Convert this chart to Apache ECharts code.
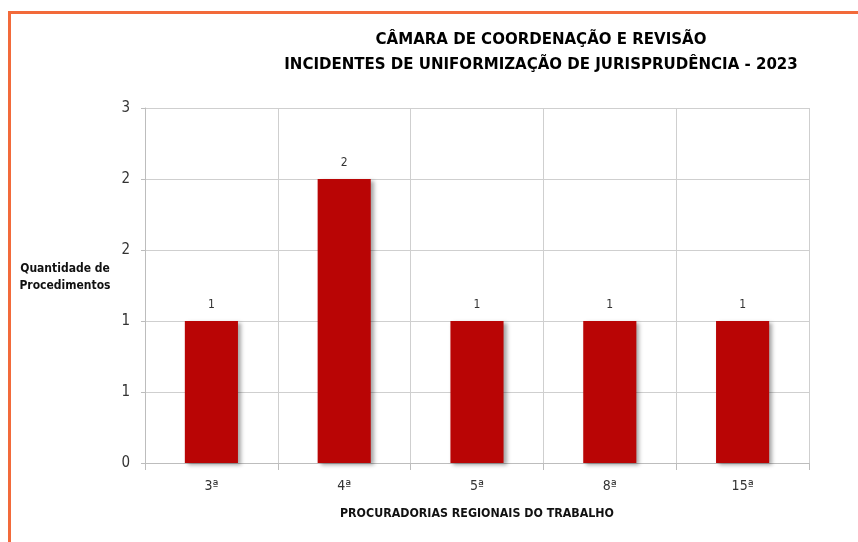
<!DOCTYPE html>
<html>
<head>
<meta charset="utf-8">
<script src="https://cdn.jsdelivr.net/npm/echarts@6/dist/echarts.min.js"></script>
<style>
html,body{margin:0;padding:0;background:#fff;}
#frame{position:absolute;left:8px;top:11px;width:900px;height:600px;border-top:3px solid #f26a3a;border-left:3px solid #f26a3a;}
#chart{position:absolute;left:0;top:0;width:858px;height:542px;}
</style>
</head>
<body>
<div id="frame"></div>
<div id="chart"></div>
<script>
// dados do gráfico
var categorias = ['3ª', '4ª', '5ª', '8ª', '15ª'];
var quantidades = [1, 2, 1, 1, 1];
var eixoY = { min: 0, max: 2.5, intervalo: 0.5 };

var myChart = echarts.init(document.getElementById('chart'));
var fonte = '"Liberation Sans Narrow", "DejaVu Sans Condensed", sans-serif';
var option = {
    animation: false,
    title: [
        {
            text: 'CÂMARA DE COORDENAÇÃO E REVISÃO\nINCIDENTES DE UNIFORMIZAÇÃO DE JURISPRUDÊNCIA - 2023',
            left: 536, top: 22, textAlign: 'center',
            textStyle: { fontFamily: fonte, fontSize: 16.7, fontWeight: 'bold', color: '#000', lineHeight: 25 }
        },
        {
            text: 'Quantidade de\nProcedimentos',
            left: 60, top: 255, textAlign: 'center',
            textStyle: { fontFamily: fonte, fontSize: 12, fontWeight: 'bold', color: '#111', lineHeight: 17 }
        }
    ],
    grid: { left: 145, right: 49, top: 108, bottom: 79 },
    xAxis: {
        type: 'category',
        data: categorias,
        name: 'PROCURADORIAS REGIONAIS DO TRABALHO',
        nameLocation: 'middle',
        nameGap: 45,
        nameTextStyle: { fontFamily: fonte, fontSize: 12.3, fontWeight: 'bold', color: '#111' },
        axisLine: { lineStyle: { color: '#bdbdbd' } },
        axisTick: { show: true, length: 7, lineStyle: { color: '#bdbdbd' } },
        axisLabel: { fontFamily: fonte, fontSize: 14, color: '#333', margin: 16 },
        splitLine: { show: true, lineStyle: { color: '#cfcfcf' } }
    },
    yAxis: {
        type: 'value',
        min: eixoY.min, max: eixoY.max, interval: eixoY.intervalo,
        axisLine: { show: true, lineStyle: { color: '#bdbdbd' } },
        axisTick: { show: true, length: 4, lineStyle: { color: '#bdbdbd' } },
        axisLabel: {
            fontFamily: fonte, fontSize: 15, color: '#333', margin: 15,
            formatter: function (v) { return Math.round(v); }
        },
        splitLine: { show: true, lineStyle: { color: '#cfcfcf' } }
    },
    series: [{
        type: 'bar',
        data: quantidades,
        barWidth: '40%',
        itemStyle: {
            color: '#b90505',
            shadowColor: 'rgba(0,0,0,0.35)',
            shadowBlur: 4,
            shadowOffsetX: 3,
            shadowOffsetY: 2
        },
        label: {
            show: true, position: 'top', distance: 10,
            fontFamily: fonte, fontSize: 12, color: '#333'
        }
    }]
};
myChart.setOption(option);
</script>
</body>
</html>
